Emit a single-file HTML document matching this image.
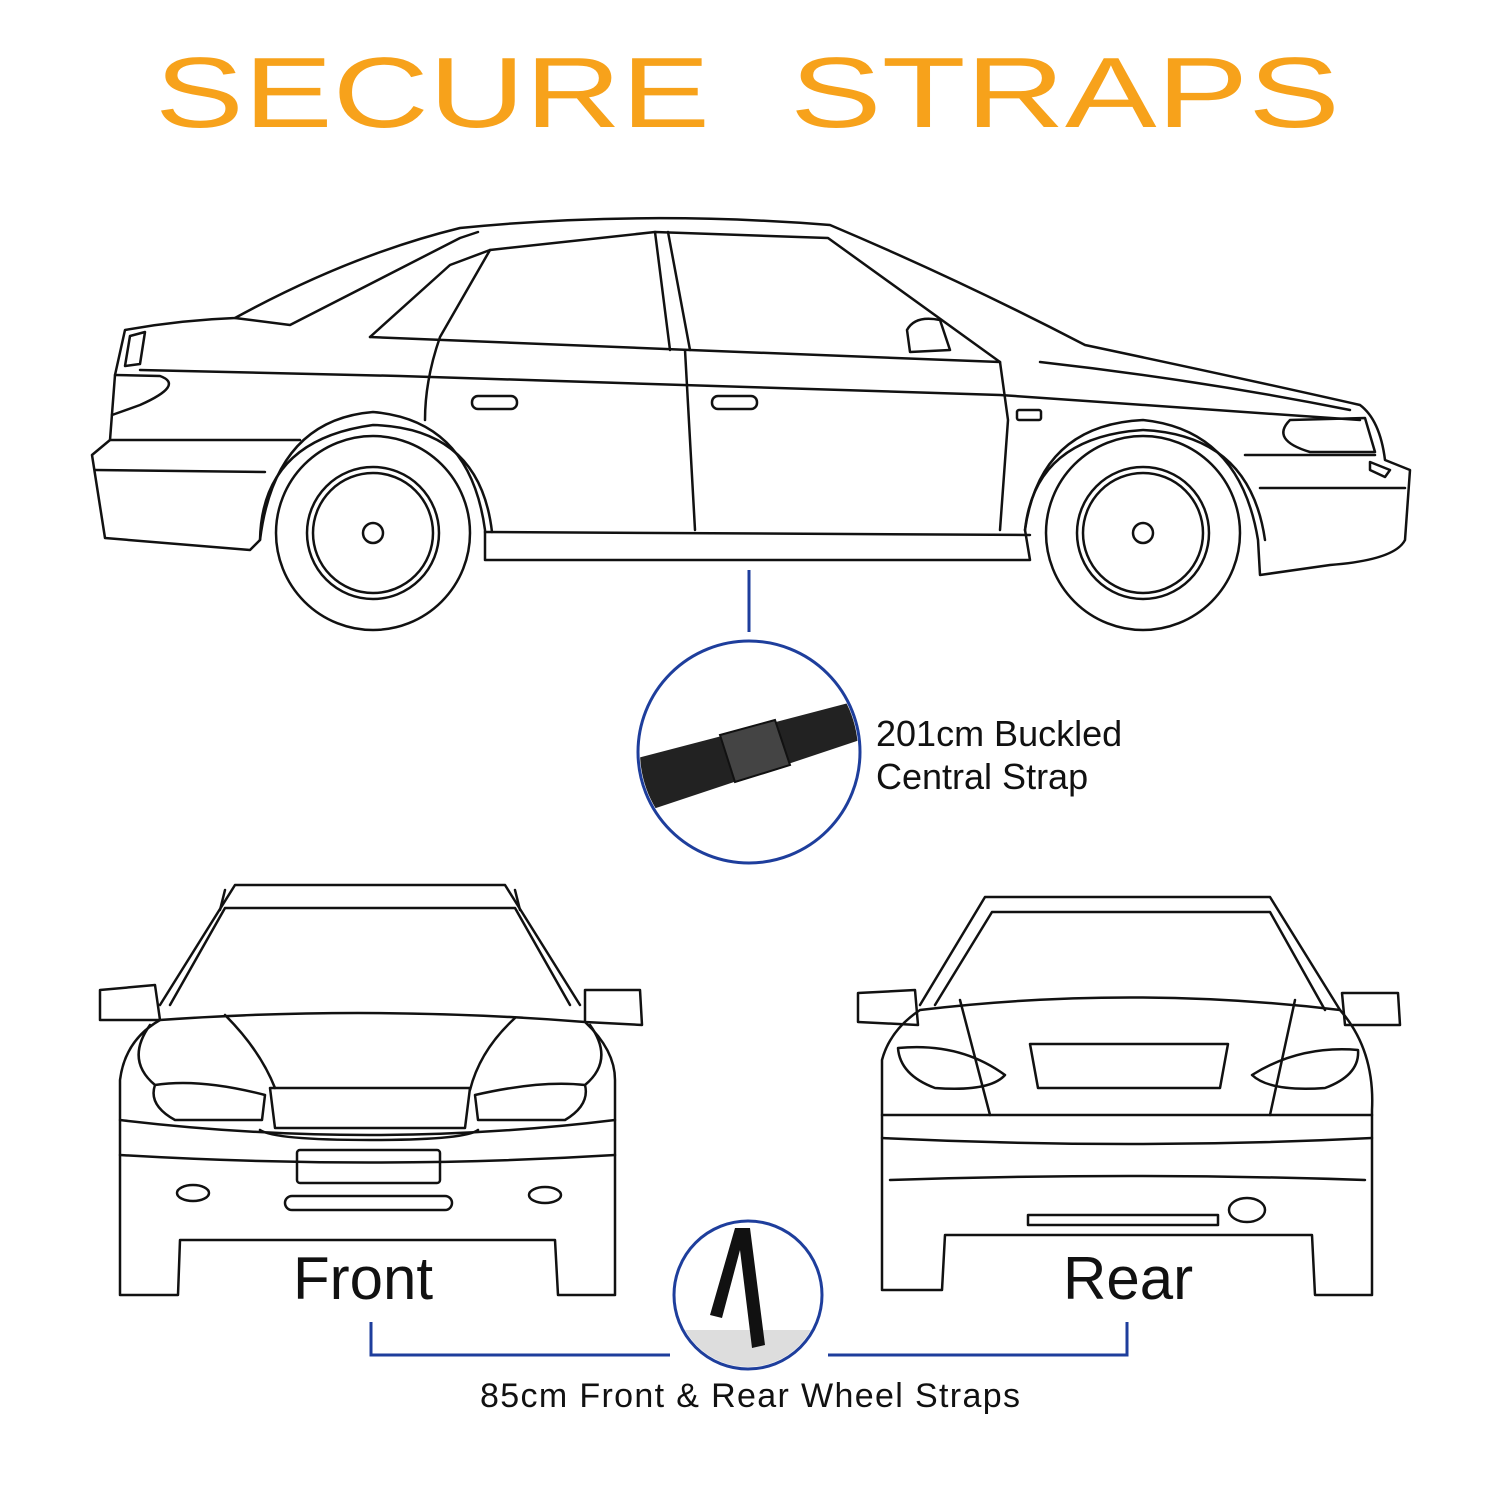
<!DOCTYPE html>
<html><head><style>
html,body{margin:0;padding:0;background:#fff;}
svg{display:block;}
text{font-family:"Liberation Sans",sans-serif;}
</style></head><body>
<svg width="1500" height="1500" viewBox="0 0 1500 1500" xmlns="http://www.w3.org/2000/svg">
<rect width="1500" height="1500" fill="#fff"/>
<g fill="#F7A21B">
<text x="155" y="127" font-size="100" textLength="555" lengthAdjust="spacingAndGlyphs">SECURE</text>
<text x="790" y="127" font-size="100" textLength="550" lengthAdjust="spacingAndGlyphs">STRAPS</text>
</g>
<g fill="none" stroke="#111" stroke-width="2.5" stroke-linejoin="round" stroke-linecap="round">
<path d="M235,318 Q350,255 460,228 Q640,210 830,225 Q960,280 1085,345 Q1250,380 1360,405 Q1380,420 1385,460 L1410,470 L1405,540 Q1395,560 1330,565 L1260,575 L1258,540 Q1240,430 1143,420 Q1040,425 1025,530 L1030,560 L485,560 L485,530 Q470,420 373,412 Q275,420 260,540 L250,550 L105,538 L92,455 L110,440 L115,375 L125,330 Q180,320 235,318 Z"/>
<path d="M235,318 L290,325 L460,238 L478,232"/>
<path d="M370,337 L450,265 L490,250 L655,232 L828,238 L1000,362"/>
<path d="M370,337 L690,350 L1000,362"/>
<path d="M655,232 L670,350 M668,232 L690,350"/>
<path d="M490,250 L440,337 Q425,380 425,420"/>
<path d="M685,350 L695,530"/>
<path d="M1000,362 L1008,420 L1000,530"/>
<path d="M140,370 L400,376 L1000,395 L1360,420"/>
<path d="M110,440 L300,440 M95,470 L265,472"/>
<path d="M130,336 L145,332 L140,364 L125,366 Z"/>
<path d="M115,375 L160,376 Q185,385 140,405 L112,415"/>
<path d="M485,532 L1030,535"/>
<path d="M1040,362 Q1200,380 1350,410"/>
<path d="M1290,420 L1365,418 L1375,452 L1310,452 Q1270,440 1290,420 Z"/>
<path d="M1245,455 L1375,455 M1260,488 L1405,488"/>
<path d="M1370,462 L1390,470 L1385,477 L1370,470 Z"/>
<path d="M907,330 Q915,315 940,320 L950,350 L910,352 Z"/>
<rect x="472" y="396" width="45" height="13" rx="6"/>
<rect x="712" y="396" width="45" height="13" rx="6"/>
<rect x="1017" y="410" width="24" height="10" rx="2"/>
<circle cx="373" cy="533" r="97"/><circle cx="373" cy="533" r="66"/><circle cx="373" cy="533" r="60"/><circle cx="373" cy="533" r="10"/>
<circle cx="1143" cy="533" r="97"/><circle cx="1143" cy="533" r="66"/><circle cx="1143" cy="533" r="60"/><circle cx="1143" cy="533" r="10"/>
<path d="M260,540 Q262,440 373,425 Q480,428 492,532"/>
<path d="M1025,530 Q1035,437 1143,430 Q1250,435 1265,540"/>
</g>
<g fill="none" stroke="#111" stroke-width="2.5" stroke-linejoin="round" stroke-linecap="round">
<path d="M160,1005 L235,885 L505,885 L580,1005"/>
<path d="M170,1005 L225,908 L515,908 L570,1005"/>
<path d="M225,890 L220,910 M515,890 L520,910"/>
<path d="M100,990 L155,985 L160,1020 L100,1020 Z"/>
<path d="M585,990 L640,990 L642,1025 L585,1022 Z"/>
<path d="M160,1020 Q370,1005 585,1022 Q615,1050 615,1080 L615,1295 L558,1295 L555,1240 L180,1240 L178,1295 L120,1295 L120,1080 Q125,1040 160,1020 Z"/>
<path d="M225,1015 Q260,1050 275,1088 M515,1018 Q480,1050 470,1090"/>
<path d="M270,1088 L470,1088 L465,1128 L275,1128 Z"/>
<path d="M260,1130 Q275,1140 370,1140 Q465,1140 478,1130"/>
<path d="M155,1085 Q200,1078 265,1095 L262,1120 L175,1120 Q148,1105 155,1085 Z"/>
<path d="M585,1085 Q540,1080 475,1095 L478,1120 L565,1120 Q590,1105 585,1085 Z"/>
<path d="M150,1025 Q125,1060 155,1085 M590,1025 Q615,1060 585,1085"/>
<path d="M120,1120 Q370,1150 615,1120 M120,1155 Q370,1170 615,1155"/>
<rect x="297" y="1150" width="143" height="33" rx="3"/>
<rect x="285" y="1196" width="167" height="14" rx="7"/>
<ellipse cx="193" cy="1193" rx="16" ry="8"/><ellipse cx="545" cy="1195" rx="16" ry="8"/>
</g>
<g fill="none" stroke="#111" stroke-width="2.5" stroke-linejoin="round" stroke-linecap="round">
<path d="M920,1005 L985,897 L1270,897 L1340,1010"/>
<path d="M935,1005 L992,912 L1270,912 L1325,1010"/>
<path d="M858,993 L915,990 L918,1025 L858,1022 Z"/>
<path d="M1342,993 L1398,993 L1400,1025 L1345,1025 Z"/>
<path d="M920,1010 Q1130,985 1340,1010 Q1375,1050 1372,1110 L1372,1295 L1315,1295 L1312,1235 L945,1235 L942,1290 L882,1290 L882,1060 Q890,1030 920,1010 Z"/>
<path d="M960,1000 L990,1115 M1295,1000 L1270,1115"/>
<path d="M1030,1044 L1228,1044 L1220,1088 L1038,1088 Z"/>
<path d="M898,1048 Q960,1042 1005,1075 Q990,1092 935,1088 Q900,1075 898,1048 Z"/>
<path d="M1358,1050 Q1300,1045 1252,1075 Q1270,1092 1325,1088 Q1360,1075 1358,1050 Z"/>
<path d="M882,1115 L1372,1115 M882,1138 Q1130,1150 1372,1138 M890,1180 Q1130,1172 1365,1180"/>
<path d="M1028,1215 L1218,1215 L1218,1225 L1028,1225 Z"/>
<ellipse cx="1247" cy="1210" rx="18" ry="12"/>
</g>
<text x="293" y="1299" font-size="60" fill="#111">Front</text>
<text x="1063" y="1299" font-size="60" fill="#111">Rear</text>
<text x="876" y="746" font-size="36" fill="#111">201cm Buckled</text>
<text x="876" y="789" font-size="36" fill="#111">Central Strap</text>
<text x="480" y="1407" font-size="34" fill="#111" textLength="540">85cm Front &amp; Rear Wheel Straps</text>
<g fill="none" stroke="#1E3E9C" stroke-width="3">
<line x1="749" y1="570" x2="749" y2="632"/>
<circle cx="749" cy="752" r="111"/>
<circle cx="748" cy="1295" r="74"/>
<path d="M371,1322 L371,1355 L670,1355 M828,1355 L1127,1355 L1127,1322"/>
</g>
<clipPath id="c1"><circle cx="749" cy="752" r="109"/></clipPath>
<g clip-path="url(#c1)">
<path d="M630,760 L860,700 L860,740 L650,810 Z" fill="#222"/>
<path d="M720,735 L775,720 L790,765 L735,782 Z" fill="#444" stroke="#111" stroke-width="2"/>
</g>
<clipPath id="c2"><circle cx="748" cy="1295" r="72"/></clipPath>
<g clip-path="url(#c2)">
<rect x="670" y="1330" width="160" height="50" fill="#ddd"/>
<path d="M735,1228 L750,1228 L765,1345 L752,1348 L740,1250 L722,1318 L710,1315 Z" fill="#111"/>
</g>
</svg>
</body></html>
